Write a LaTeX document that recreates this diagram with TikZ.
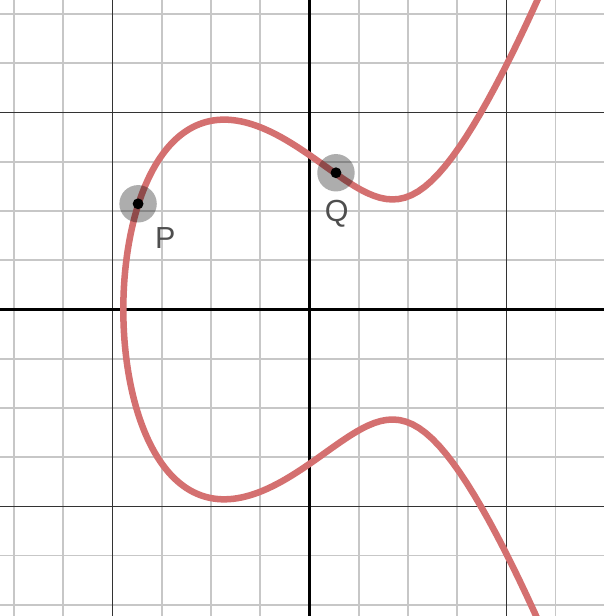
\documentclass[tikz,border=0pt]{standalone}
\usepackage{fontspec}
\setmainfont{Liberation Sans}
\definecolor{curvered}{RGB}{212,112,112}
\definecolor{labelgray}{RGB}{78,78,78}
\begin{document}
\begin{tikzpicture}[x=1cm,y=1cm,
  minorline/.style={draw=black!22,line width=0.45pt},
  majorline/.style={draw=black!80,line width=0.5pt},
  axisline/.style={draw=black,line width=0.9pt},
  halo/.style={circle,fill=black,fill opacity=0.32,minimum size=0.38cm,inner sep=0pt},
  ptdot/.style={circle,fill=black,minimum size=0.11cm,inner sep=0pt},
  ptlabel/.style={font=\fontsize{8.8}{10}\selectfont,text=labelgray,inner sep=0pt},
  declare function={cx(\t)=-1.89+\t*\t; hq(\x)=0.9875*\x*\x-1.833*\x+1.3;}]
\useasboundingbox (-3.142,-3.112) rectangle (2.99,3.142);
\clip (-3.142,-3.112) rectangle (2.99,3.142);
\fill[white] (-3.142,-3.112) rectangle (2.99,3.142);
\foreach \k in {-3,-2.5,...,3}{
  \draw[minorline] (\k,-3.2) -- (\k,3.2);
  \draw[minorline] (-3.2,\k) -- (3.2,\k);
}
\foreach \k in {-2,2}{
  \draw[majorline] (\k,-3.2) -- (\k,3.2);
  \draw[majorline] (-3.2,\k) -- (3.2,\k);
}
\draw[axisline] (0,-3.2) -- (0,3.2);
\draw[axisline] (-3.2,0) -- (3.2,0);
\draw[curvered,line width=1.88pt,line join=round] plot[domain=-2.12:2.12,samples=220,variable=\t]
  ({cx(\t)},{\t*sqrt(hq(cx(\t)))});
\node[halo] (Phalo) at (-1.74,1.073) {};
\node[halo] (Qhalo) at (0.269,1.388) {};
\node[ptdot] (P) at (Phalo) {};
\node[ptdot] (Q) at (Qhalo) {};
\node[ptlabel] (Plab) at (-1.464,0.728) {P};
\node[ptlabel] (Qlab) at (0.276,0.975) {Q};
\end{tikzpicture}
\end{document}
